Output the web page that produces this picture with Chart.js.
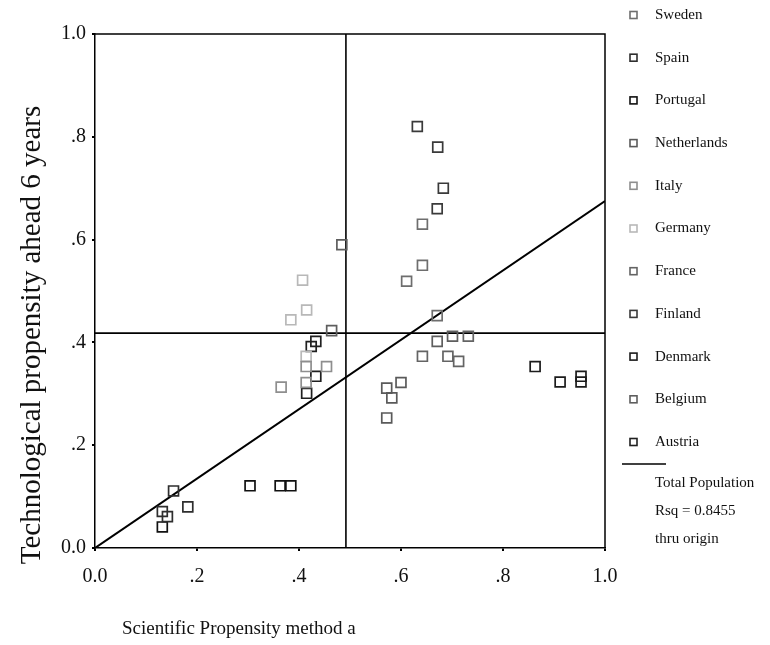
<!DOCTYPE html>
<html>
<head>
<meta charset="utf-8">
<script src="https://cdn.jsdelivr.net/npm/chart.js@4.4.1/dist/chart.umd.min.js"></script>
<style>
    html, body { margin: 0; padding: 0; background: #fff; }
    #wrap { width: 770px; height: 645px; }
</style>
</head>
<body>
<div id="wrap"><canvas id="propChart" width="770" height="645"></canvas></div>
<script>
// Countries as listed in the legend (top to bottom)
const countries = ['Sweden', 'Spain', 'Portugal', 'Netherlands', 'Italy', 'Germany',
                   'France', 'Finland', 'Denmark', 'Belgium', 'Austria'];

// Scientific propensity (x), one row per country
const sciValues = [
    [0.642, 0.642, 0.611, 0.671],
    [0.154, 0.182, 0.132, 0.142],
    [0.304, 0.363, 0.384, 0.132],
    [0.600, 0.572, 0.582, 0.572],
    [0.365, 0.454, 0.414, 0.414],
    [0.407, 0.415, 0.384, 0.414],
    [0.732, 0.642, 0.692, 0.713],
    [0.632, 0.672, 0.683, 0.671],
    [0.863, 0.912, 0.953, 0.953],
    [0.484, 0.464, 0.671, 0.701],
    [0.433, 0.424, 0.433, 0.415]
];

// Technological propensity ahead 6 years (y), same order
const techValues = [
    [0.630, 0.550, 0.519, 0.452],
    [0.111, 0.080, 0.071, 0.061],
    [0.121, 0.121, 0.121, 0.041],
    [0.322, 0.311, 0.292, 0.253],
    [0.313, 0.353, 0.353, 0.322],
    [0.521, 0.463, 0.444, 0.373],
    [0.412, 0.373, 0.373, 0.363],
    [0.820, 0.780, 0.700, 0.660],
    [0.353, 0.323, 0.334, 0.323],
    [0.590, 0.423, 0.402, 0.412],
    [0.402, 0.392, 0.334, 0.301]
];

// Reference lines and fit through origin
const meanSci = 0.492;
const meanTech = 0.418;
const fitSlope = 0.675;
const fitLines = ['Total Population', 'Rsq = 0.8455', 'thru origin'];

const tickValues = [0, 0.2, 0.4, 0.6, 0.8, 1];

// Marker shades (styles kept apart from data)
const markerColors = ['#6e6e6e', '#2e2e2e', '#111111', '#5a5a5a', '#8e8e8e', '#b8b8b8',
                      '#646464', '#3a3a3a', '#1c1c1c', '#5e5e5e', '#202020'];

const SERIF = "'Liberation Serif', 'Times New Roman', serif";

function fmtTick(v) {
    const r = Math.round(v * 10) / 10;
    if (r === 0) return '0.0';
    if (r === 1) return '1.0';
    return r.toFixed(1).replace(/^0/, '');
}

const datasets = countries.map((name, i) => ({
    type: 'scatter',
    label: name,
    data: sciValues[i].map((x, k) => ({ x: x, y: techValues[i][k] })),
    pointStyle: 'rect',
    pointRadius: 7,
    pointBorderWidth: 1.7,
    borderColor: markerColors[i],
    backgroundColor: 'rgba(255,255,255,0)'
}));

// Straight lines: mean cross-hairs and regression line
const lineStyle = { type: 'line', borderColor: '#000', borderWidth: 1.6, pointRadius: 0, fill: false, showLine: true };
datasets.push(Object.assign({ label: 'meanX', data: [{ x: meanSci, y: 0 }, { x: meanSci, y: 1 }] }, lineStyle));
datasets.push(Object.assign({ label: 'meanY', data: [{ x: 0, y: meanTech }, { x: 1, y: meanTech }] }, lineStyle));
datasets.push(Object.assign({ label: 'fit', data: [{ x: 0, y: 0 }, { x: 1, y: fitSlope }] }, lineStyle, { borderWidth: 2 }));

// Frame, axis titles and the custom legend
const decorPlugin = {
    id: 'decor',
    afterDraw(chart) {
        const ctx = chart.ctx;
        const a = chart.chartArea;
        ctx.save();

        // top and right edges of the box
        ctx.strokeStyle = '#000';
        ctx.lineWidth = 1.5;
        ctx.beginPath();
        ctx.moveTo(a.left, a.top);
        ctx.lineTo(a.right, a.top);
        ctx.lineTo(a.right, a.bottom);
        ctx.stroke();

        ctx.fillStyle = '#111';

        // y title
        ctx.save();
        ctx.translate(32, 335);
        ctx.rotate(-Math.PI / 2);
        ctx.font = '29px ' + SERIF;
        ctx.textAlign = 'center';
        ctx.textBaseline = 'middle';
        ctx.fillText('Technological propensity ahead 6 years', 0, 0);
        ctx.restore();

        // x title
        ctx.font = '19px ' + SERIF;
        ctx.textAlign = 'left';
        ctx.textBaseline = 'middle';
        ctx.fillText('Scientific Propensity method a', 122, 629);

        // legend
        ctx.font = '15px ' + SERIF;
        countries.forEach((name, i) => {
            const y = 15 + i * 42.7;
            ctx.strokeStyle = markerColors[i];
            ctx.lineWidth = 1.6;
            ctx.strokeRect(630, y - 3.5, 7, 7);
            ctx.fillText(name, 655, y);
        });
        ctx.strokeStyle = '#000';
        ctx.lineWidth = 1.5;
        ctx.beginPath();
        ctx.moveTo(622, 464);
        ctx.lineTo(666, 464);
        ctx.stroke();
        fitLines.forEach((t, i) => ctx.fillText(t, 655, 483 + i * 28));

        ctx.restore();
    }
};

const axisCommon = {
    type: 'linear',
    min: 0,
    max: 1,
    border: { display: true, color: '#000', width: 1.5 },
    grid: { display: true, drawOnChartArea: false, drawTicks: true, tickLength: 3, color: '#000', lineWidth: 2 }
};

new Chart(document.getElementById('propChart'), {
    type: 'scatter',
    data: { datasets: datasets },
    options: {
        responsive: false,
        animation: false,
        layout: { padding: { left: 45, right: 165, top: 34, bottom: 57 } },
        plugins: {
            legend: { display: false },
            tooltip: { enabled: false }
        },
        scales: {
            x: Object.assign({}, axisCommon, {
                afterBuildTicks: s => { s.ticks = tickValues.map(v => ({ value: v })); },
                afterFit: s => { s.height = 40; },
                ticks: { color: '#111', padding: 14, maxRotation: 0, font: { family: SERIF, size: 20 }, callback: fmtTick }
            }),
            y: Object.assign({}, axisCommon, {
                afterBuildTicks: s => { s.ticks = tickValues.map(v => ({ value: v })); },
                afterFit: s => { s.width = 50; },
                ticks: { color: '#111', padding: 6, font: { family: SERIF, size: 20 }, callback: fmtTick }
            })
        }
    },
    plugins: [decorPlugin]
});
</script>
</body>
</html>
